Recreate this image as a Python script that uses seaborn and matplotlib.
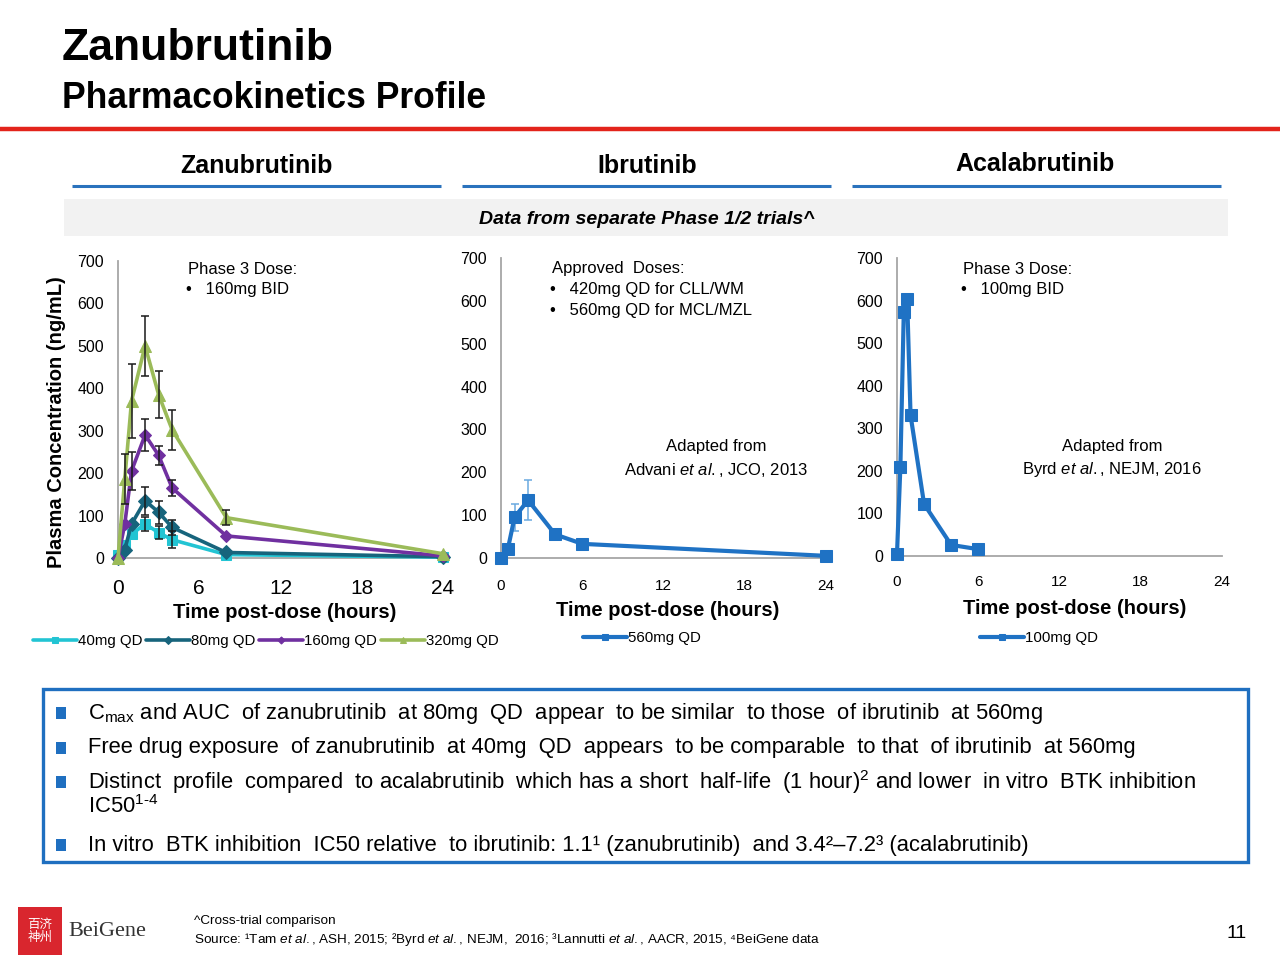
import numpy as np
import pandas as pd
import matplotlib
matplotlib.use("Agg")
import matplotlib.pyplot as plt
import seaborn as sns
from matplotlib.patches import Rectangle
from matplotlib.lines import Line2D

# ---------------- data ----------------
zanu_time = [0, 0.5, 1, 2, 3, 4, 8, 24]
zanu_40 = [6, 30, 56, 80, 60, 43, 8, 2]
zanu_40_err = [0, 0, 0, 17, 15, 20, 0, 0]
zanu_80 = [0, 20, 80, 135, 108, 72, 13, 3]
zanu_80_err = [0, 0, 0, 33, 27, 17, 0, 0]
zanu_160 = [0, 80, 205, 290, 242, 165, 52, 5]
zanu_160_err = [0, 0, 45, 38, 22, 20, 0, 0]
zanu_320 = [0, 186, 370, 500, 385, 302, 95, 10]
zanu_320_err = [0, 58, 88, 70, 55, 48, 18, 0]
zanu_labels = ["40mg QD", "80mg QD", "160mg QD", "320mg QD"]

ibru_time = [0, 0.5, 1, 2, 4, 6, 24]
ibru_560 = [0, 20, 95, 135, 55, 33, 5]
ibru_560_err = [0, 0, 32, 47, 0, 0, 0]
ibru_label = "560mg QD"

acala_time = [0, 0.25, 0.5, 0.75, 1, 2, 4, 6]
acala_100 = [5, 210, 572, 603, 331, 122, 26, 16]
acala_label = "100mg QD"

x_ticks = [0, 6, 12, 18, 24]
y_ticks = [0, 100, 200, 300, 400, 500, 600, 700]

# ---------------- style ----------------
sns.set_style("white")
plt.rcParams["font.family"] = ["Liberation Sans", "DejaVu Sans"]
plt.rcParams["mathtext.fontset"] = "custom"
plt.rcParams["mathtext.rm"] = "Liberation Sans"
plt.rcParams["mathtext.it"] = "Liberation Sans:italic"
plt.rcParams["mathtext.bf"] = "Liberation Sans:bold"
for k in ("text.color", "axes.labelcolor", "xtick.color", "ytick.color"):
    plt.rcParams[k] = "black"

W, H = 1280, 960
fig = plt.figure(figsize=(12.8, 9.6), dpi=100)
fig.patch.set_facecolor("white")


def T(x, y, s, **kw):
    kw.setdefault("va", "center")
    kw.setdefault("ha", "left")
    kw.setdefault("color", "black")
    return fig.text(x / W, 1 - y / H, s, **kw)


def hline(x0, x1, y, color, lw):
    fig.add_artist(Line2D([x0 / W, x1 / W], [1 - y / H, 1 - y / H],
                          color=color, lw=lw, transform=fig.transFigure,
                          solid_capstyle="butt"))


def rect(x, y, w, h, **kw):
    fig.add_artist(Rectangle((x / W, 1 - (y + h) / H), w / W, h / H,
                             transform=fig.transFigure, **kw))


# ---------------- header ----------------
T(62, 48, "Zanubrutinib", fontsize=32, fontweight="bold")
T(62, 98, "Pharmacokinetics Profile", fontsize=25.6, fontweight="bold")
hline(0, 1280, 129, "#E3241B", 3.2)

T(256, 166, "Zanubrutinib", fontsize=18, fontweight="bold", ha="center")
T(647, 166, "Ibrutinib", fontsize=18, fontweight="bold", ha="center")
T(1035, 164, "Acalabrutinib", fontsize=18, fontweight="bold", ha="center")
blue = "#2A72BD"
hline(72, 441, 186, blue, 2.2)
hline(462, 831, 186, blue, 2.2)
hline(852, 1221, 186, blue, 2.2)

rect(64, 199, 1164, 37, facecolor="#F2F2F2", edgecolor="none")
T(647, 219, "Data from separate Phase 1/2 trials^", fontsize=14,
  fontweight="bold", style="italic", ha="center")

# ---------------- axes ----------------
ax1 = fig.add_axes([118 / W, 1 - 558 / H, 325 / W, 297 / H])
ax2 = fig.add_axes([501 / W, 1 - 558 / H, 325 / W, 300 / H])
ax3 = fig.add_axes([897 / W, 1 - 556 / H, 325 / W, 298 / H])

spine_c = "#A6A6A6"
for ax, xfs in ((ax1, 15), (ax2, 11), (ax3, 11)):
    ax.set_xlim(0, 24)
    ax.set_ylim(0, 700)
    ax.set_xticks(x_ticks)
    ax.set_xticks(np.arange(0, 25, 1), minor=True)
    ax.set_yticks(y_ticks)
    ax.set_facecolor("none")
    for s in ("top", "right"):
        ax.spines[s].set_visible(False)
    for s in ("left", "bottom"):
        ax.spines[s].set_color(spine_c)
        ax.spines[s].set_linewidth(1.3)
    ax.tick_params(axis="y", which="major", direction="out", length=4,
                   color=spine_c, width=1, labelsize=11.5, pad=6,
                   labelcolor="black")
    ax.tick_params(axis="x", which="major", direction="out", length=6,
                   color=spine_c, width=1, labelsize=xfs, pad=9,
                   labelcolor="black")
    ax.tick_params(axis="x", which="minor", direction="out", length=3,
                   color=spine_c, width=1)
ax3.tick_params(axis="x", which="major", direction="inout", length=10)

# zanubrutinib
c40, c80, c160, c320 = "#22C4D3", "#17647C", "#7030A0", "#9BBB59"
series = [
    (zanu_40, zanu_40_err, c40, "s", 7),
    (zanu_80, zanu_80_err, c80, "D", 7.5),
    (zanu_160, zanu_160_err, c160, "D", 6),
    (zanu_320, zanu_320_err, c320, "^", 8),
]
handles = []
for (vals, err, col, mk, ms), lab in zip(series, zanu_labels):
    df = pd.DataFrame({"t": zanu_time, "c": vals})
    sns.lineplot(data=df, x="t", y="c", ax=ax1, color=col, marker=mk,
                 markersize=ms, markeredgecolor=col, linewidth=2.6,
                 clip_on=False, legend=False, zorder=3)
    handles.append(ax1.lines[-1])
    e = np.array(err)
    m = e > 0
    ax1.errorbar(np.array(zanu_time)[m], np.array(vals)[m], yerr=e[m],
                 fmt="none", ecolor="#1A1A1A", elinewidth=1.1, capsize=3,
                 capthick=1.1, zorder=4)

# ibrutinib
ibc = "#1F72C4"
df = pd.DataFrame({"t": ibru_time, "c": ibru_560})
e = np.array(ibru_560_err)
m = e > 0
ax2.errorbar(np.array(ibru_time)[m], np.array(ibru_560)[m], yerr=e[m],
             fmt="none", ecolor="#6AAAE0", elinewidth=1.1, capsize=3,
             capthick=1.1, zorder=2)
sns.lineplot(data=df, x="t", y="c", ax=ax2, color=ibc, marker="s",
             markersize=8, markeredgecolor=ibc, linewidth=3, clip_on=False,
             legend=False, zorder=3)
h_ibru = ax2.lines[-1]

# acalabrutinib
df = pd.DataFrame({"t": acala_time, "c": acala_100})
sns.lineplot(data=df, x="t", y="c", ax=ax3, color=ibc, marker="s",
             markersize=8, markeredgecolor=ibc, linewidth=3, clip_on=False,
             legend=False, zorder=3)
h_acala = ax3.lines[-1]

for ax in (ax1, ax2, ax3):
    ax.set_xlabel("")
    ax.set_ylabel("")

# legends
ax1.legend(handles, zanu_labels, loc="center left",
           bbox_to_anchor=(33 / W, 1 - 641 / H), bbox_transform=fig.transFigure,
           ncol=4, frameon=False, handlelength=2.9, handletextpad=0.1,
           columnspacing=0.25, fontsize=10.8, borderpad=0, borderaxespad=0,
           markerscale=0.6)
ax2.legend([h_ibru], [ibru_label], loc="center left",
           bbox_to_anchor=(583 / W, 1 - 638 / H), bbox_transform=fig.transFigure,
           frameon=False, handlelength=2.9, handletextpad=0.1, fontsize=10.8,
           borderpad=0, borderaxespad=0, markerscale=0.6)
ax3.legend([h_acala], [acala_label], loc="center left",
           bbox_to_anchor=(980 / W, 1 - 638 / H), bbox_transform=fig.transFigure,
           frameon=False, handlelength=2.9, handletextpad=0.1, fontsize=10.8,
           borderpad=0, borderaxespad=0, markerscale=0.6)

# axis titles
T(57, 422, "Plasma Concentration (ng/mL)", fontsize=14.5, fontweight="bold",
  rotation=90, ha="center")
T(285, 612, "Time post-dose (hours)", fontsize=14.5, fontweight="bold", ha="center")
T(668, 610, "Time post-dose (hours)", fontsize=14.5, fontweight="bold", ha="center")
T(1075, 609, "Time post-dose (hours)", fontsize=14.5, fontweight="bold", ha="center")

# annotations
af = 12
T(188, 269, "Phase 3 Dose:", fontsize=af)
T(186, 290, "•   160mg BID", fontsize=af)
T(552, 269, "Approved  Doses:", fontsize=af)
T(550, 290, "•   420mg QD for CLL/WM", fontsize=af)
T(550, 311, "•   560mg QD for MCL/MZL", fontsize=af)
T(716, 447, "Adapted from", fontsize=af, ha="center")
T(716, 470, r"Advani $\mathit{et\ al.}$, JCO, 2013", fontsize=af, ha="center")
T(963, 269, "Phase 3 Dose:", fontsize=af)
T(961, 290, "•   100mg BID", fontsize=af)
T(1112, 447, "Adapted from", fontsize=af, ha="center")
T(1112, 470, r"Byrd $\mathit{et\ al.}$, NEJM, 2016", fontsize=af, ha="center")

# ---------------- bullet box ----------------
rect(43, 689, 1205, 173, facecolor="none", edgecolor="#1F6FC0", linewidth=2.4)
bf = 15.8
lines_y = [713, 748, 782, 845]
for yy in lines_y:
    rect(56, yy - 6, 10, 12, facecolor="#1F6FC0", edgecolor="none")
T(88, 713, r"C$_{\mathrm{max}}$ and AUC  of zanubrutinib  at 80mg  QD  appear  to be similar  to those  of ibrutinib  at 560mg", fontsize=bf)
T(88, 748, "Free drug exposure  of zanubrutinib  at 40mg  QD  appears  to be comparable  to that  of ibrutinib  at 560mg", fontsize=bf)
T(88, 782, r"Distinct  profile  compared  to acalabrutinib  which has a short  half-life  (1 hour)$^{2}$ and lower  in vitro  BTK inhibition", fontsize=bf)
T(88, 807, r"IC50$^{1\text{-}4}$", fontsize=bf)
T(88, 845, "In vitro  BTK inhibition  IC50 relative  to ibrutinib: 1.1¹ (zanubrutinib)  and 3.4²–7.2³ (acalabrutinib)", fontsize=bf)

# ---------------- footer ----------------
rect(18, 907, 44, 48, facecolor="#D9262E", edgecolor="none")
T(40, 931, "百济\n神州", fontsize=9, color="white", ha="center",
  family=["Noto Sans CJK SC", "DejaVu Sans"], linespacing=1.0)
T(68, 931, "BeiGene", fontsize=16, family=["Liberation Serif", "DejaVu Serif"],
  color="#333333")
T(194, 921, "^Cross-trial comparison", fontsize=9.7)
T(194, 939, r"Source: ¹Tam $\mathit{et\ al.}$, ASH, 2015; ²Byrd $\mathit{et\ al.}$, NEJM,  2016; ³Lannutti $\mathit{et\ al.}$, AACR, 2015, ⁴BeiGene data", fontsize=9.7)
T(1237, 934, "11", fontsize=14, ha="center")

fig.savefig("out.png", dpi=100)
